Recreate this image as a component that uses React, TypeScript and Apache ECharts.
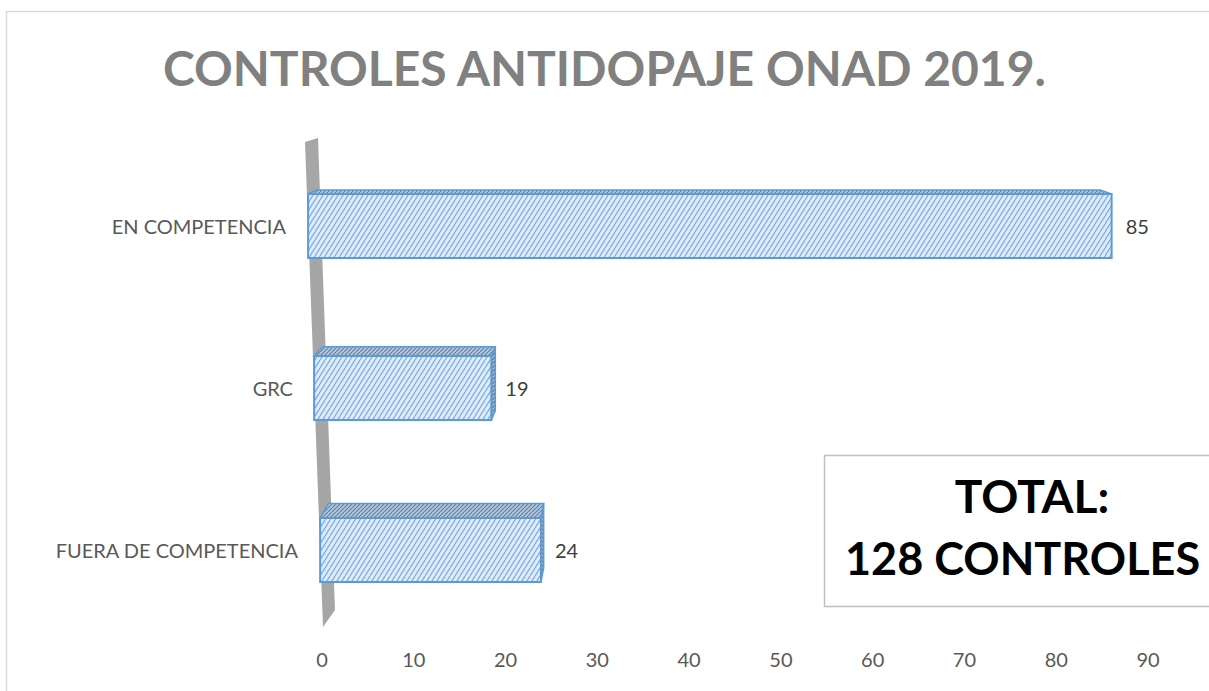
import React, { useEffect, useRef } from 'react';
import * as echarts from 'echarts';

const TITLE = 'CONTROLES ANTIDOPAJE ONAD 2019.';
const categories = ['EN COMPETENCIA', 'GRC', 'FUERA DE COMPETENCIA'];
const values = [85, 19, 24];
const X_MIN = 0;
const X_MAX = 90;
const X_INTERVAL = 10;
const totalLines = ['TOTAL:', '128 CONTROLES'];

// left 3D wall (decoration), its left edge is where the bars start
const WALL_PTS = [
  [305, 142],
  [318, 138],
  [335, 610],
  [323, 627],
];
function wallX(y: number) {
  return 305 + ((y - 142) * (323 - 305)) / (627 - 142);
}

function makeHatch(bg: string, fg: string, w: number, h: number, lw: number) {
  const c = document.createElement('canvas');
  c.width = w;
  c.height = h;
  const ctx = c.getContext('2d')!;
  ctx.fillStyle = bg;
  ctx.fillRect(0, 0, w, h);
  ctx.strokeStyle = fg;
  ctx.lineWidth = lw;
  for (const o of [-w, 0, w]) {
    ctx.beginPath();
    ctx.moveTo(o, h);
    ctx.lineTo(o + w, 0);
    ctx.stroke();
  }
  return { image: c, repeat: 'repeat', imageWidth: w, imageHeight: h };
}

export default function App() {
  const ref = useRef<HTMLDivElement>(null);
  useEffect(() => {
    if (!ref.current) return;
    const chart = echarts.init(ref.current, null, { renderer: 'svg' });
    const frontPat = makeHatch('#deecf9', '#86afdc', 5, 8, 1.4);
    const topPat = makeHatch('#b3c8df', '#647f a3'.replace(' ', ''), 4, 4, 1.2);
    const sidePat = makeHatch('#a2b6cc', '#5a7898', 4, 4, 1.2);
    const stroke = '#5b9bd5';

    const renderItem = (params: any, api: any) => {
      const v = api.value(0);
      const idx = api.value(1);
      const p = api.coord([v, idx]);
      const p0 = api.coord([0, idx]);
      const band = api.size([0, 1])[1];
      const bh = band * 0.395;
      const yc = p[1];
      const yTop = yc - bh / 2;
      const yBot = yc + bh / 2;
      const f = 1 + (0.03 * (580 - yc)) / 354;
      const xL = wallX(yc);
      const xR = xL + (p[0] - p0[0]) * f;
      const dy = -0.032 * (yTop - 68);
      const dxL = 0.025 * (650 - xL);
      const dxR = 0.025 * (650 - xR);
      const children: any[] = [];
      if (dxR > 0) {
        children.push({
          type: 'polygon',
          shape: { points: [[xR, yTop], [xR + dxR, yTop + dy], [xR + dxR, yBot + dy], [xR, yBot]] },
          style: { fill: sidePat, stroke, lineWidth: 1.5 },
        });
      }
      children.push({
        type: 'polygon',
        shape: { points: [[xL, yTop], [xL + dxL, yTop + dy], [xR + dxR, yTop + dy], [xR, yTop]] },
        style: { fill: topPat, stroke, lineWidth: 1.5 },
      });
      children.push({
        type: 'rect',
        shape: { x: xL, y: yTop, width: xR - xL, height: bh },
        style: { fill: frontPat, stroke, lineWidth: 2 },
      });
      children.push({
        type: 'text',
        style: {
          text: String(v),
          x: xR + 14,
          y: yc,
          align: 'left',
          verticalAlign: 'middle',
          fill: '#404040',
          fontSize: 20,
          fontFamily: 'Lato',
        },
      });
      return { type: 'group', children };
    };

    const labelStyle = { fontFamily: 'Lato', fontSize: 20, color: '#595959' };
    const pads = [12, 5, 0];
    const rich: any = {};
    categories.forEach((_, i) => {
      rich['c' + i] = { ...labelStyle, padding: [0, pads[i] || 0, 0, 0] };
    });

    chart.setOption({
      animation: false,
      title: {
        text: TITLE,
        left: 'center',
        top: 38,
        textStyle: { fontFamily: 'Lato', fontWeight: 'bold', fontSize: 48, color: '#808080' },
      },
      grid: { left: 322, right: 61, top: 145, bottom: 60 },
      xAxis: {
        type: 'value',
        min: X_MIN,
        max: X_MAX,
        interval: X_INTERVAL,
        axisLine: { show: false },
        axisTick: { show: false },
        splitLine: { show: false },
        axisLabel: { margin: 18, ...labelStyle },
      },
      yAxis: {
        type: 'category',
        data: categories,
        inverse: true,
        axisLine: { show: false },
        axisTick: { show: false },
        splitLine: { show: false },
        axisLabel: {
          margin: 24,
          formatter: (val: string, i: number) => `{c${i}|${val}}`,
          rich,
        },
      },
      series: [
        {
          type: 'custom',
          renderItem,
          data: values.map((v, i) => [v, i]),
          encode: { x: 0, y: 1 },
          clip: false,
        },
      ],
      graphic: [
        {
          type: 'rect',
          z: -10,
          shape: { x: 6.5, y: 11.5, width: 1400, height: 1000 },
          style: { fill: 'none', stroke: '#d9d9d9', lineWidth: 1.5 },
        },
        {
          type: 'polygon',
          z: -5,
          shape: { points: WALL_PTS },
          style: { fill: '#a6a6a6' },
        },
        {
          type: 'rect',
          shape: { x: 824.5, y: 455.5, width: 430, height: 151 },
          style: { fill: '#ffffff', stroke: '#bfbfbf', lineWidth: 1.5 },
        },
        {
          type: 'text',
          style: {
            text: totalLines[0],
            x: 1032,
            y: 495,
            align: 'center',
            verticalAlign: 'middle',
            fill: '#000000',
            fontFamily: 'Lato',
            fontWeight: 'bold',
            fontSize: 46,
          },
        },
        {
          type: 'text',
          style: {
            text: totalLines[1],
            x: 845,
            y: 558,
            align: 'left',
            verticalAlign: 'middle',
            fill: '#000000',
            fontFamily: 'Lato',
            fontWeight: 'bold',
            fontSize: 45,
          },
        },
      ],
    });
    return () => chart.dispose();
  }, []);
  return (
    <div
      ref={ref}
      style={{ position: 'absolute', left: 0, top: 0, width: 1209, height: 691 }}
    />
  );
}
